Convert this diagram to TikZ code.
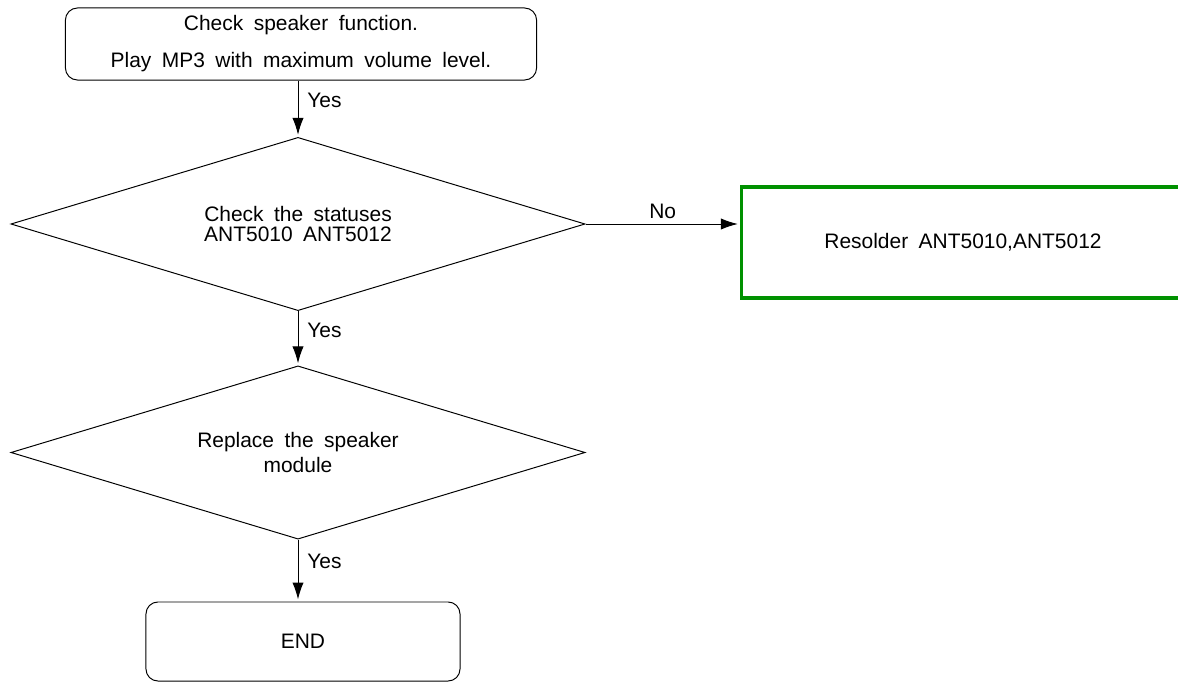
\documentclass[tikz,border=0pt]{standalone}
\usepackage{fontspec}
\setmainfont{Liberation Sans}[WordSpace=1.8]
\usepackage{xcolor}
\definecolor{g1}{HTML}{009100}
\usetikzlibrary{shapes.geometric,arrows.meta}

\begin{document}
\begin{tikzpicture}[x=0.025cm,y=-0.025cm,
  every node/.style={font=\fontsize{14.9}{18}\selectfont},
  endbox/.style={draw,rounded corners=0.3cm,line width=0.7pt,align=center},
  decision/.style={draw,diamond,aspect=3.3,inner sep=0pt,line width=0.7pt,align=center,minimum width=14.35cm,minimum height=4.33cm},
  flow/.style={-{Latex[length=12pt,width=8pt]},line width=0.7pt,shorten >=1.5pt},
  lbl/.style={right,pos=0.35,xshift=3pt}]
  \useasboundingbox (0,0) rectangle (1178,683);
  \node[endbox,minimum width=11.775cm,minimum height=1.8cm] (check) at (301,44) {Check speaker function.\\[8.2pt]Play MP3 with maximum volume level.};
  \node[decision,font=\fontsize{14.9}{14.2}\selectfont] (status) at (298,224) {Check the statuses\\ANT5010 ANT5012};
  \node[draw=g1,line width=2.2pt,minimum width=11.075cm,minimum height=2.775cm] (resolder) at (963,242.5) {Resolder ANT5010,ANT5012};
  \node[decision] (speaker) at (298,452.5) {Replace the speaker\\module};
  \node[endbox,minimum width=7.85cm,minimum height=1.975cm] (end) at (303,641.5) {END};
  % connectors
  \draw[flow] (check.south -| status.north) -- (status.north) node[lbl] {Yes};
  \draw[flow] (status.east) -- (status.east -| resolder.west) node[midway,above] {No};
  \draw[flow] (status.south) -- (speaker.north) node[lbl] {Yes};
  \draw[flow] (speaker.south) -- (speaker.south |- end.north) node[lbl] {Yes};
\end{tikzpicture}
\end{document}
